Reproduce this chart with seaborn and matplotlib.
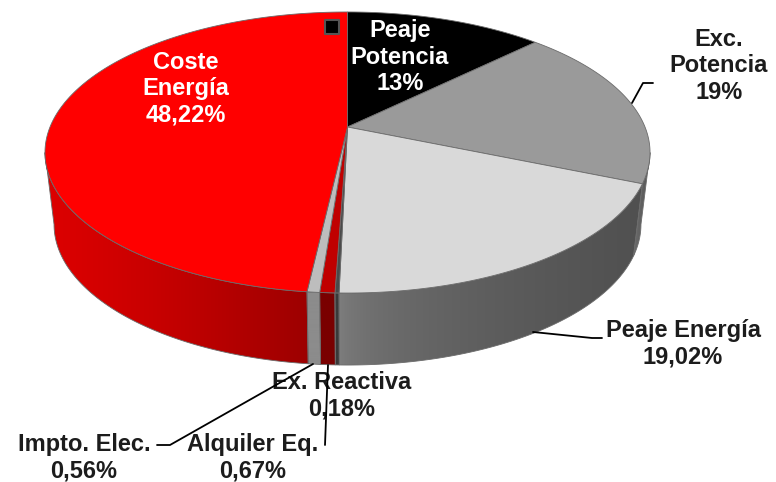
import numpy as np
import matplotlib
matplotlib.use("Agg")
import matplotlib.pyplot as plt
import seaborn as sns
from matplotlib.colors import to_rgb
from matplotlib.patches import Polygon

# slices, clockwise from 12 o'clock
categories = ["Peaje\nPotencia", "Exc.\nPotencia", "Peaje Energía", "Ex. Reactiva",
              "Alquiler Eq.", "Impto. Elec.", "Coste\nEnergía"]
shares = [12.6, 18.75, 19.02, 0.18, 0.67, 0.56, 48.22]
pct_labels = ["13%", "19%", "19,02%", "0,18%", "0,67%", "0,56%", "48,22%"]

top_colors = ["#000000", "#9a9a9a", "#d9d9d9", "#4a4a4a", "#c00000", "#bdbdbd", "#ff0000"]
# side wall gradient, left colour -> right colour
side_colors = [("#202020", "#202020"), ("#6a6a6a", "#555555"), ("#828282", "#505050"),
               ("#3a3a3a", "#3a3a3a"), ("#7a0000", "#7a0000"), ("#8c8c8c", "#8c8c8c"),
               ("#dc0000", "#9c0000")]
side_gamma = [1, 1, 0.45, 1, 1, 1, 1.3]

# label placement (pixel coords), text colour
label_pos = [(400, 57), (719, 66), (683, 344), (342, 396), (253, 458), (84, 458), (186, 89)]
label_color = ["white", "#1c1c1c", "#1c1c1c", "#1c1c1c", "#1c1c1c", "#1c1c1c", "white"]
leaders = [
    [(632, 103), (643, 83), (653, 83)],
    [(533, 332), (592, 338), (602, 338)],
    [(157, 445), (170, 445), (313, 364)],
    [(325, 445), (328, 365)],
]

# perspective disc geometry (pixels)
CX, CY = 347.5, 127.0
K = 0.1815
A, B = 297.5, 135.9
DEPTH = 72
BOTTOM_SCALE = 0.97


def project(theta, scale=1.0, drop=0.0):
    w = 1 + K * np.sin(theta)
    x = CX + scale * A * np.cos(theta) / w
    y = CY - B * np.sin(theta) / w + drop
    return x, y


def mix(c1, c2, t):
    a, b = np.array(to_rgb(c1)), np.array(to_rgb(c2))
    return a + (b - a) * t


sns.set_style("white")
plt.rcParams["font.family"] = ["Liberation Sans", "DejaVu Sans"]

fig = plt.figure(figsize=(7.76, 4.82), dpi=100)
ax = fig.add_axes([0, 0, 1, 1])
ax.set_autoscale_on(False)
ax.set_xlim(0, 776)
ax.set_ylim(482, 0)
ax.axis("off")

total = sum(shares)
cum = np.concatenate([[0], np.cumsum(shares)]) / total
starts = np.deg2rad(90 - 360 * cum[:-1])
ends = np.deg2rad(90 - 360 * cum[1:])

vis_lo = np.deg2rad(-180 + np.rad2deg(np.arcsin(K)))
vis_hi = -np.arcsin(K)
edge = "#6b6b6b"

# side walls with horizontal shading
for i in range(len(shares)):
    lo, hi = max(ends[i], vis_lo), min(starts[i], vis_hi)
    if lo >= hi:
        continue
    th = np.linspace(hi, lo, max(3, int(np.rad2deg(hi - lo) * 3)))
    xt, yt = project(th)
    xb, yb = project(th[::-1], BOTTOM_SCALE, DEPTH)
    xs, ys = np.r_[xt, xb], np.r_[yt, yb]
    poly = Polygon(np.c_[xs, ys], closed=True, fc="none", ec=edge, lw=0.6, zorder=2)
    ax.add_patch(poly)
    t = np.linspace(0, 1, 256) ** side_gamma[i]
    grad = np.array([mix(side_colors[i][0], side_colors[i][1], v) for v in t])[None, :, :]
    im = ax.imshow(grad, extent=[xs.min() - 1, xs.max() + 1, ys.max() + 1, ys.min() - 1],
                   aspect="auto", interpolation="bilinear", zorder=1)
    im.set_clip_path(poly)

# top faces
for i in range(len(shares)):
    th = np.linspace(starts[i], ends[i], max(3, int(np.rad2deg(starts[i] - ends[i]) * 2)))
    x, y = project(th)
    ax.fill(np.r_[CX, x], np.r_[CY, y], fc=top_colors[i], ec=edge, lw=0.6, zorder=3)

# small marker near the top
ax.scatter([332], [27], marker="s", s=90, c="#000000", edgecolors="#555555",
           linewidths=1.5, zorder=5)

for i, name in enumerate(categories):
    x, y = label_pos[i]
    ax.text(x, y, f"{name}\n{pct_labels[i]}", ha="center", va="center",
            fontsize=17, fontweight="bold", color=label_color[i],
            linespacing=1.17, zorder=6)

for pts in leaders:
    xs, ys = zip(*pts)
    ax.plot(xs, ys, color="black", lw=1.3, zorder=7)

ax.set_xlim(0, 776)
ax.set_ylim(482, 0)
fig.savefig("out.png", dpi=100)
